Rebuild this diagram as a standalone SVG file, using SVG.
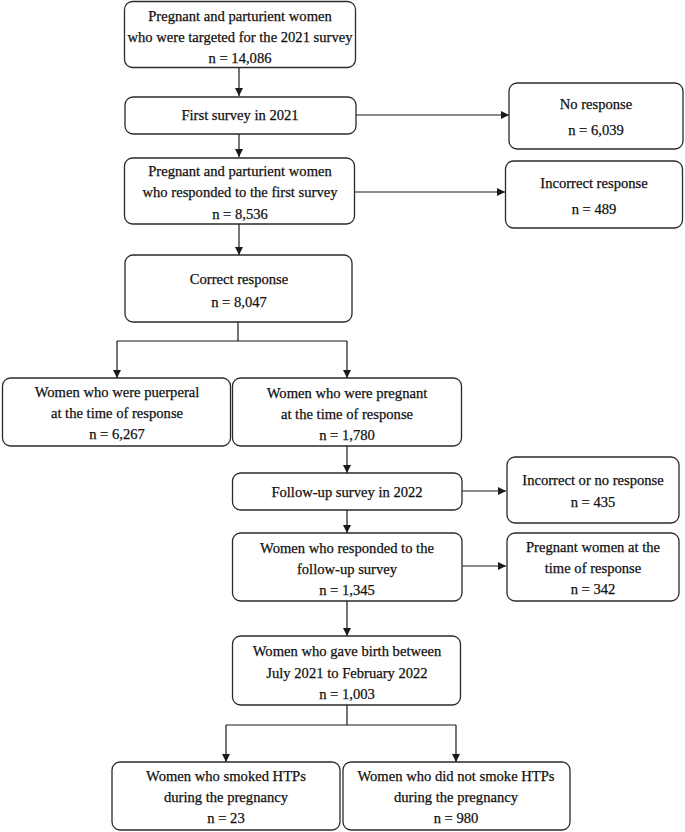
<svg xmlns="http://www.w3.org/2000/svg" width="685" height="832" viewBox="0 0 685 832">
<defs>
<marker id="ah" viewBox="0 0 10 10" refX="10" refY="5" markerWidth="8" markerHeight="8" markerUnits="userSpaceOnUse" orient="auto">
<path d="M0,0 L10,5 L0,10 z" fill="#1a1a1a"/>
</marker>
<style>
.box{fill:#fff;stroke:#2a2a2a;stroke-width:1.3}
.t{font-family:"Liberation Serif","Times New Roman",serif;font-size:14.6px;fill:#111;stroke:#111;stroke-width:0.25;text-anchor:middle}
.c{fill:none;stroke:#1a1a1a;stroke-width:1.2}
</style>
</defs>
<rect width="685" height="832" fill="#fff"/>
<g id="connectors">
<path class="c" d="M239,67 V96" marker-end="url(#ah)"/>
<path class="c" d="M356,115 H509" marker-end="url(#ah)"/>
<path class="c" d="M239,134 V157" marker-end="url(#ah)"/>
<path class="c" d="M354,192 H505" marker-end="url(#ah)"/>
<path class="c" d="M239,224 V255" marker-end="url(#ah)"/>
<path class="c" d="M238,322 V341 M117,341 H347"/>
<path class="c" d="M117,341 V378" marker-end="url(#ah)"/>
<path class="c" d="M347,341 V378" marker-end="url(#ah)"/>
<path class="c" d="M347,446 V473" marker-end="url(#ah)"/>
<path class="c" d="M462,491 H506" marker-end="url(#ah)"/>
<path class="c" d="M347,510 V533" marker-end="url(#ah)"/>
<path class="c" d="M462,566 H506" marker-end="url(#ah)"/>
<path class="c" d="M347,601 V636" marker-end="url(#ah)"/>
<path class="c" d="M347,705 V725 M226,725 H456"/>
<path class="c" d="M226,725 V762" marker-end="url(#ah)"/>
<path class="c" d="M456,725 V762" marker-end="url(#ah)"/>
</g>
<g id="n1"><rect class="box" x="124.5" y="1.5" width="231" height="66" rx="8"/>
<text class="t" x="240" y="21">Pregnant and parturient women</text>
<text class="t" x="240" y="42">who were targeted for the 2021 survey</text>
<text class="t" x="240" y="63">n = 14,086</text></g>
<g id="n2"><rect class="box" x="125" y="97" width="231" height="37" rx="8"/>
<text class="t" x="240" y="120">First survey in 2021</text></g>
<g id="n3"><rect class="box" x="509" y="83" width="174" height="66" rx="8"/>
<text class="t" x="596" y="109">No response</text>
<text class="t" x="596" y="135">n = 6,039</text></g>
<g id="n4"><rect class="box" x="124.5" y="158" width="230" height="66" rx="8"/>
<text class="t" x="240" y="176">Pregnant and parturient women</text>
<text class="t" x="240" y="197">who responded to the first survey</text>
<text class="t" x="240" y="219">n = 8,536</text></g>
<g id="n5"><rect class="box" x="505.5" y="161" width="177" height="67" rx="8"/>
<text class="t" x="594" y="188">Incorrect  response</text>
<text class="t" x="594" y="214">n = 489</text></g>
<g id="n6"><rect class="box" x="125" y="255" width="227" height="67" rx="8"/>
<text class="t" x="239" y="284">Correct response</text>
<text class="t" x="239" y="307">n = 8,047</text></g>
<g id="n7"><rect class="box" x="2.5" y="378" width="228" height="68" rx="8"/>
<text class="t" x="117" y="397">Women who were puerperal</text>
<text class="t" x="117" y="418">at the time of response</text>
<text class="t" x="117" y="439">n = 6,267</text></g>
<g id="n8"><rect class="box" x="232.5" y="378" width="229" height="68" rx="8"/>
<text class="t" x="347" y="398">Women who were pregnant</text>
<text class="t" x="347" y="419">at the time of response</text>
<text class="t" x="347" y="440">n = 1,780</text></g>
<g id="n9"><rect class="box" x="232.5" y="473" width="229.5" height="37" rx="8"/>
<text class="t" x="347" y="497">Follow-up survey in 2022</text></g>
<g id="n10"><rect class="box" x="507" y="457" width="172" height="66" rx="8"/>
<text class="t" x="593" y="485">Incorrect or no response</text>
<text class="t" x="593" y="507">n = 435</text></g>
<g id="n11"><rect class="box" x="232.5" y="533" width="229.5" height="68" rx="8"/>
<text class="t" x="347" y="553">Women who responded to the</text>
<text class="t" x="347" y="574">follow-up survey</text>
<text class="t" x="347" y="595">n = 1,345</text></g>
<g id="n12"><rect class="box" x="507" y="533" width="172" height="68" rx="8"/>
<text class="t" x="593" y="552">Pregnant women at the</text>
<text class="t" x="593" y="573">time of response</text>
<text class="t" x="593" y="594">n = 342</text></g>
<g id="n13"><rect class="box" x="232.5" y="636" width="228" height="69" rx="8"/>
<text class="t" x="347" y="656">Women who gave birth between</text>
<text class="t" x="347" y="678">July 2021 to February 2022</text>
<text class="t" x="347" y="699">n = 1,003</text></g>
<g id="n14"><rect class="box" x="112" y="762" width="228" height="68" rx="8"/>
<text class="t" x="226" y="781">Women who smoked HTPs</text>
<text class="t" x="226" y="802">during the pregnancy</text>
<text class="t" x="226" y="823">n = 23</text></g>
<g id="n15"><rect class="box" x="343" y="762" width="227" height="68" rx="8"/>
<text class="t" x="456" y="781">Women who did not smoke HTPs</text>
<text class="t" x="456" y="802">during the pregnancy</text>
<text class="t" x="456" y="823">n = 980</text></g>
</svg>
